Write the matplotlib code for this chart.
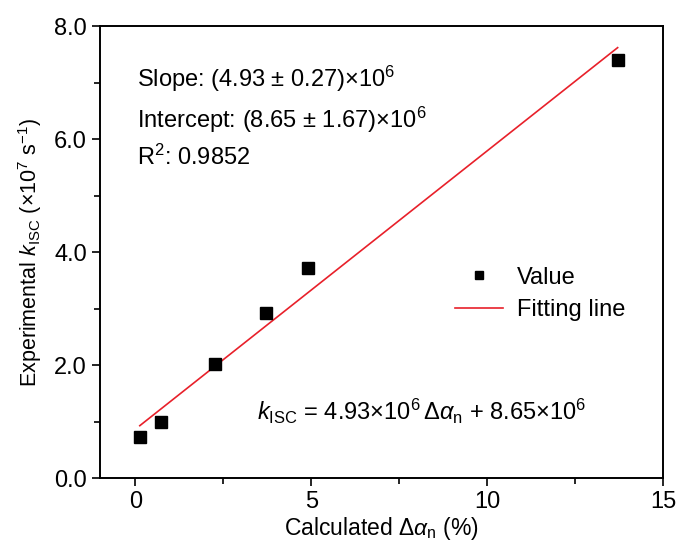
import matplotlib
matplotlib.use("Agg")
import matplotlib.pyplot as plt
from matplotlib.ticker import MultipleLocator

plt.rcParams['font.family'] = ['Liberation Sans', 'DejaVu Sans']
plt.rcParams['mathtext.fontset'] = 'custom'
plt.rcParams['mathtext.rm'] = 'Liberation Sans'
plt.rcParams['mathtext.it'] = 'Liberation Sans:italic'
plt.rcParams['mathtext.sf'] = 'Liberation Sans'

# data
delta_alpha = [0.13, 0.73, 2.26, 3.7, 4.9, 13.7]
k_isc = [0.72, 1.0, 2.02, 2.92, 3.72, 7.4]

slope = 0.493      # x10^7 per %
intercept = 0.865  # x10^7
fit_x = [0.13, 13.7]
fit_y = [slope * x + intercept for x in fit_x]

FS = 17

fig = plt.figure(figsize=(6.78, 5.44), dpi=100)
ax = fig.add_axes([0.1475, 0.121, 0.831, 0.831])

ax.plot(delta_alpha, k_isc, 's', color='black', markersize=8, label='Value', zorder=3)
ax.plot(fit_x, fit_y, '-', color='#e8202a', lw=1.2, label='Fitting line')

ax.set_xlim(-1, 15)
ax.set_ylim(0, 8)
ax.xaxis.set_major_locator(MultipleLocator(5))
ax.xaxis.set_minor_locator(MultipleLocator(2.5))
ax.yaxis.set_minor_locator(MultipleLocator(1))
ax.set_yticks([0, 2, 4, 6, 8])
ax.set_yticklabels(['0.0', '2.0', '4.0', '6.0', '8.0'])
ax.tick_params(which='both', direction='out', labelsize=FS, width=1.2)
ax.tick_params(which='major', length=6)
ax.tick_params(which='minor', length=4)
for s in ax.spines.values():
    s.set_linewidth(1.4)

ax.set_xlabel(r'Calculated $\Delta\mathit{\alpha}_{\mathrm{n}}$ (%)', fontsize=16.5, labelpad=1)
ax.set_ylabel(r'Experimental $\mathit{k}_{\mathrm{ISC}}$ (×10$^7$ s$^{-1}$)', fontsize=15.5, labelpad=7)

ax.text(0.05, 6.92, r'Slope: (4.93 ± 0.27)×10$^6$', fontsize=FS)
ax.text(0.05, 6.2, r'Intercept: (8.65 ± 1.67)×10$^6$', fontsize=FS)
ax.text(0.05, 5.54, r'R$^2$: 0.9852', fontsize=FS)
ax.text(12.8, 1.03, r'$\mathit{k}_{\mathrm{ISC}}$ = 4.93×10$^6$$\,\Delta\mathit{\alpha}_{\mathrm{n}}$ + 8.65×10$^6$',
        fontsize=FS, ha='right')

ax.legend(loc='upper left', bbox_to_anchor=(0.593, 0.515), frameon=False, fontsize=FS,
          handlelength=2.0, handletextpad=0.6, labelspacing=0.45, markerscale=0.8)

fig.savefig('out.png', dpi=100)
